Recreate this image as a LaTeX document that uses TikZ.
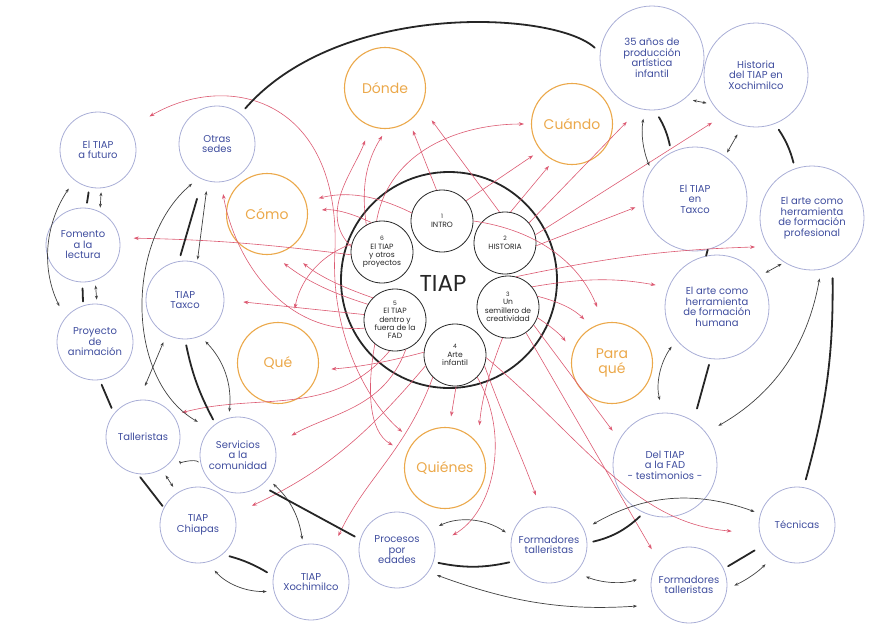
\documentclass[tikz,border=0pt]{standalone}
\usepackage{fontspec}
\setmainfont{Poppins}
\usetikzlibrary{arrows.meta}
\definecolor{bluetext}{HTML}{3F4D9E}
\definecolor{blueline}{HTML}{A9AED6}
\definecolor{orng}{HTML}{EBA84A}
\definecolor{redarr}{HTML}{DC5A72}
\definecolor{dk}{HTML}{262626}
\definecolor{gry}{HTML}{404040}
\newcommand\nsz{\fontsize{6}{6.5}\selectfont}
\tikzset{
 bnode/.style={circle, draw=blueline, line width=0.8pt, text=bluetext, minimum size=76pt, inner sep=0pt, align=center, font=\fontsize{10}{10.5}\selectfont},
 bbig/.style={bnode, minimum size=104pt},
 onode/.style={circle, draw=orng, line width=1.1pt, text=orng, minimum size=81pt, inner sep=0pt, align=center, font=\fontsize{14}{14.5}\selectfont},
 inode/.style={circle, draw=dk, line width=0.8pt, text=dk, minimum size=62pt, inner sep=0pt, align=center, font=\fontsize{7.6}{8.4}\selectfont},
 redarrow/.style={draw=redarr, line width=0.6pt, -{Stealth[length=5pt,width=3.6pt]}},
 redboth/.style={draw=redarr, line width=0.6pt, {Stealth[length=5pt,width=3.6pt]}-{Stealth[length=5pt,width=3.6pt]}},
 blkline/.style={draw=dk, line width=1.8pt, line cap=round},
 dblarrow/.style={draw=gry, line width=0.7pt, {Stealth[length=4pt,width=3pt]}-{Stealth[length=4pt,width=3pt]}},
 sglarrow/.style={draw=gry, line width=0.7pt, -{Stealth[length=3.5pt,width=3pt]}},
}
\begin{document}
\begin{tikzpicture}[x=1pt,y=1pt]
\useasboundingbox (0,0) rectangle (883,-624);
% blue nodes
\node[bnode] (futuro) at (98,-150) {El TIAP\\a futuro};
\node[bnode] (otras) at (217,-144) {Otras\\sedes};
\node[bnode, minimum size=74pt] (fomento) at (83,-245) {Fomento\\a la\\lectura};
\node[bnode] (proyecto) at (95,-342) {Proyecto\\de\\animación};
\node[bnode, minimum size=78pt] (ttaxco) at (185,-300) {TIAP\\Taxco};
\node[bnode, minimum size=74pt] (talleristas) at (143,-437) {Talleristas};
\node[bnode] (servicios) at (238,-455) {Servicios\\a la\\comunidad};
\node[bnode] (chiapas) at (198,-525) {TIAP\\Chiapas};
\node[bnode] (xochi) at (311,-582) {TIAP\\Xochimilco};
\node[bnode] (procesos) at (397,-550) {Procesos\\por\\edades};
\node[bnode] (formA) at (549,-545) {Formadores\\talleristas};
\node[bnode] (formB) at (689,-585) {Formadores\\talleristas};
\node[bnode] (tecnicas) at (797,-525) {Técnicas};
\node[bbig] (delfad) at (665,-465) {Del TIAP\\a la FAD\\- testimonios -};
\node[bbig] (humana) at (717,-307) {El arte como\\herramienta\\de formación\\humana};
\node[bbig] (profes) at (812,-218) {El arte como\\herramienta\\de formación\\profesional};
\node[bbig] (taxcoR) at (695,-199) {El TIAP\\en\\Taxco};
\node[bbig] (anos) at (652,-58) {35 años de\\producción\\artística\\infantil};
\node[bbig] (historia) at (756,-75) {Historia\\del TIAP en\\Xochimilco};
% orange nodes
\node[onode] (donde) at (385,-88) {Dónde};
\node[onode] (cuando) at (572,-124) {Cuándo};
\node[onode] (como) at (267,-214) {Cómo};
\node[onode] (que) at (278,-363) {Qué};
\node[onode] (paraque) at (612,-363) {Para\\qué};
\node[onode] (quienes) at (445,-468) {Quiénes};
% center
\node[circle, draw=dk, line width=1.8pt, minimum size=216pt, inner sep=0pt] (big) at (449,-280) {};
\node[font=\fontsize{23}{23}\selectfont, text=dk] (tiap) at (443,-283) {TIAP};
\node[inode] (i1) at (442,-221) {{\nsz 1}\\INTRO};
\node[inode] (i2) at (505,-243) {{\nsz 2}\\HISTORIA};
\node[inode] (i3) at (508,-307) {{\nsz 3}\\Un\\semillero de\\creatividad};
\node[inode] (i4) at (455,-355) {{\nsz 4}\\Arte\\infantil};
\node[inode] (i5) at (395,-320) {{\nsz 5}\\El TIAP\\dentro y\\fuera de la\\FAD};
\node[inode] (i6) at (382,-252) {{\nsz 6}\\El TIAP\\y otros\\proyectos};
% red arrows
\draw[redarrow, shorten >=17pt] (i2.100) -- (donde.-27);
\draw[redarrow, shorten >=10pt] (i1.100) -- (donde.-54);
\draw[redarrow, shorten >=8pt] (i6.120) to[bend left=20] (donde.-88);
\draw[redarrow, shorten >=15pt] (i6.170) to[out=135,in=-110] (donde.-111);
\draw[redarrow, shorten >=7pt] (i6.100) to[out=80,in=180] (cuando.180);
\draw[redarrow, shorten >=9pt] (i1.40) -- (cuando.-140);
\draw[redarrow, shorten >=7pt] (i2.80) -- (cuando.-117);
\draw[redarrow, shorten >=18pt] (i2.40) -- (anos.-104);
\draw[redarrow, shorten >=13pt] (i2.15) -- (historia.-129);
\draw[redarrow, shorten >=8pt] (i2.-5) -- (taxcoR.-174);
\draw[redarrow, shorten >=13pt] (i3.75) to[bend left=5] (profes.-147);
\draw[redarrow, shorten >=13pt] (i3.40) to[bend left=10] (humana.158);
\draw[redarrow, shorten >=17pt] (i1.0) to[bend left=30] (paraque.102);
\draw[redarrow, shorten >=11pt] (i3.20) to[bend left=15] (paraque.119);
\draw[redarrow, shorten >=12pt] (i3.-20) to[bend left=10] (paraque.163);
\draw[redboth, shorten <=23pt, shorten >=15pt] (futuro.35) .. controls (230,-70) and (340,-100) .. (335,-250) .. controls (330,-330) and (365,-400) .. (quienes.140);
\draw[redarrow, shorten >=14pt] (i6.185) to[bend right=3] (fomento.11);
\draw[redarrow, shorten >=19pt] (i5.170) -- (ttaxco.0);
\draw[redarrow, shorten >=13pt] (i1.165) to[bend right=20] (como.18);
\draw[redarrow, shorten >=14pt] (i6.110) to[bend right=15] (como.4);
\draw[redarrow, shorten >=12pt] (i5.195) to[out=185,in=-80] (otras.-84);
\draw[redarrow, shorten >=14pt] (i5.150) to[bend left=10] (como.-82);
\draw[redarrow, shorten >=21pt] (i5.135) to[bend left=10] (como.-61);
\draw[redarrow, shorten >=9pt] (i5.-100) to[out=-130,in=15] (talleristas.36);
\draw[redarrow, shorten >=19pt] (i5.-70) to[out=-110,in=30] (servicios.15);
\draw[redarrow, shorten >=19pt] (i4.200) to[out=-130,in=25] (chiapas.17);
\draw[redarrow, shorten >=15pt] (i4.225) to[out=-110,in=65] (xochi.57);
\draw[redarrow, shorten >=16pt] (i5.-130) to[out=-100,in=150] (quienes.159);
\draw[redarrow, shorten >=11pt] (i4.-88) -- (quienes.84);
\draw[redarrow, shorten >=18pt] (i3.-100) to[bend right=8] (quienes.37);
\draw[redarrow, shorten >=13pt] (i4.-20) to[out=-70,in=110] (formA.103);
\draw[redarrow, shorten >=20pt] (i4.-45) to[out=-60,in=30] (procesos.7);
\draw[redarrow, shorten >=28pt] (i4.-5) to[out=-40,in=175] (tecnicas.-167);
\draw[redarrow, shorten >=14pt] (i3.-55) -- (formB.142);
\draw[redarrow, shorten >=11pt] (i3.-35) -- (delfad.151);
\draw[redarrow, shorten >=13pt] (i4.175) to[bend left=5] (que.-10);
\draw[redarrow, shorten >=16pt] (i6.165) to[out=200,in=80] (que.70);
% grey double arrows
\draw[dblarrow, shorten <=8pt, shorten >=6pt] (anos.-51) -- (historia.-146);
\draw[dblarrow, shorten <=10pt, shorten >=4pt] (historia.-105) -- (taxcoR.55);
\draw[dblarrow, shorten <=9pt, shorten >=5pt] (anos.-98) to[bend right=15] (taxcoR.147);
\draw[dblarrow, shorten <=7pt, shorten >=3pt] (humana.36) -- (profes.-122);
\draw[dblarrow, shorten <=8pt, shorten >=13pt] (humana.-141) to[bend right=25] (delfad.92);
\draw[dblarrow, shorten <=14pt, shorten >=9pt] (delfad.38) to[bend right=25] (profes.-80);
\draw[dblarrow, shorten <=10pt, shorten >=6pt] (formA.24) to[bend left=25] (tecnicas.163);
\draw[dblarrow, shorten <=12pt, shorten >=8pt] (tecnicas.-127) to[bend left=10] (formB.-6);
\draw[dblarrow, shorten <=11pt, shorten >=16pt] (formA.-46) to[bend right=20] (formB.164);
\draw[dblarrow, shorten <=9pt, shorten >=19pt] (procesos.-35) to[bend right=12] (formB.-149);
\draw[dblarrow, shorten <=10pt, shorten >=7pt] (procesos.31) to[bend left=30] (formA.167);
\draw[dblarrow, shorten <=11pt, shorten >=7pt] (chiapas.-76) to[bend right=25] (xochi.-166);
\draw[dblarrow, shorten <=7pt, shorten >=5pt] (servicios.-39) to[bend left=20] (xochi.102);
\draw[dblarrow, shorten <=7pt, shorten >=7pt] (talleristas.-60) -- (chiapas.123);
\draw[sglarrow, shorten <=3pt, shorten >=6pt] (servicios.-166) .. controls +(-6,6) and +(6,-6) .. (talleristas.-32);
\draw[dblarrow, shorten <=8pt, shorten >=15pt] (ttaxco.-118) -- (talleristas.96);
\draw[dblarrow, shorten <=7pt, shorten >=6pt] (ttaxco.-67) to[bend left=25] (servicios.104);
\draw[dblarrow, shorten <=9pt, shorten >=14pt] (otras.-118) .. controls (125,-240) and (125,-380) .. (servicios.137);
\draw[dblarrow, shorten <=10pt, shorten >=13pt] (futuro.-128) to[bend right=30] (proyecto.141);
\draw[dblarrow, shorten <=4pt, shorten >=4pt] (futuro.-85) -- (fomento.63);
\draw[dblarrow, shorten <=5pt, shorten >=4pt] (fomento.-71) -- (proyecto.87);
\draw[dblarrow, shorten <=10pt, shorten >=3pt] (otras.-104) -- (ttaxco.72);
% black thick connectors
\draw[blkline, shorten <=7pt, shorten >=7pt] (otras.52) .. controls (340,0) and (555,-11) .. (anos.174);
\draw[blkline, shorten <=8pt, shorten >=7pt] (anos.-87) to[bend left=10] (taxcoR.117);
\draw[blkline, shorten <=7pt, shorten >=6pt] (historia.-69) to[bend left=10] (profes.109);
\draw[blkline] (taxcoR.-76) -- (humana.102);
\draw[blkline, shorten <=12pt, shorten >=8pt] (profes.-67) to[bend left=8] (tecnicas.80);
\draw[blkline, shorten <=6pt, shorten >=13pt] (humana.-97) -- (delfad.57);
\draw[blkline, shorten <=5pt, shorten >=6pt] (delfad.-114) to[bend left=15] (formA.3);
\draw[blkline, shorten <=11pt, shorten >=5pt] (tecnicas.-149) -- (formB.25);
\draw[blkline, shorten <=5pt, shorten >=5pt] (formA.-155) to[bend left=12] (procesos.-18);
\draw[blkline, shorten <=6pt, shorten >=10pt] (procesos.164) -- (servicios.-53);
\draw[blkline, shorten <=7pt, shorten >=7pt] (xochi.171) to[bend right=8] (chiapas.-50);
\draw[blkline, shorten <=2pt, shorten >=4pt] (chiapas.153) -- (talleristas.-98);
\draw[blkline, shorten <=6pt, shorten >=5pt] (talleristas.141) -- (proyecto.-83);
\draw[blkline, shorten <=6pt, shorten >=4pt] (fomento.-91) -- (proyecto.108);
\draw[blkline, shorten <=5pt, shorten >=5pt] (futuro.-103) -- (fomento.85);
\draw[blkline, shorten <=6pt, shorten >=5pt] (ttaxco.-90) to[bend right=8] (servicios.126);
\draw[blkline, shorten <=20pt, shorten >=6pt] (otras.-112) -- (ttaxco.99);
\end{tikzpicture}
\end{document}
